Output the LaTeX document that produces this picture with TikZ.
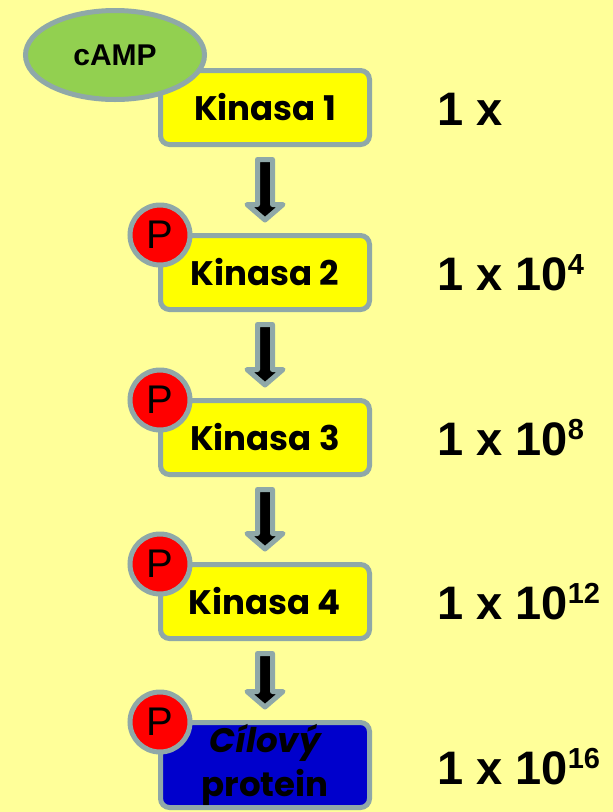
\documentclass[tikz,border=0pt]{standalone}
\usepackage{fontspec}
\setmainfont{Liberation Sans}
\newfontfamily\boxfont{Poppins}
\usetikzlibrary{shapes.geometric,calc}

\definecolor{paper}{HTML}{FFFF99}
\definecolor{edge}{HTML}{8FA8A8}
\definecolor{kinfill}{HTML}{FFFF00}
\definecolor{campgreen}{HTML}{92D050}
\definecolor{pred}{HTML}{FF0000}
\definecolor{targetblue}{HTML}{0000CC}

\tikzset{
  kbox/.style={draw=edge, line width=5pt, fill=kinfill, rounded corners=9pt,
    minimum width=209pt, minimum height=74pt, inner sep=0pt,
    font=\boxfont\bfseries\fontsize{34}{45}\selectfont},
  pcirc/.style={circle, draw=edge, line width=5pt, fill=pred, minimum size=60pt,
    inner sep=0pt, font=\fontsize{40}{40}\selectfont},
  camp/.style={ellipse, draw=edge, line width=5pt, fill=campgreen,
    minimum width=179pt, minimum height=89pt, inner sep=0pt,
    font=\bfseries\fontsize{30}{30}\selectfont},
  amount/.style={anchor=base west, inner sep=0pt,
    font=\bfseries\fontsize{47}{47}\selectfont},
  flowarrow/.style={draw=edge, line width=5pt, fill=black, line join=round,
    to path={let \p1=(\tikztostart), \p2=(\tikztotarget) in
      (\x1-7.5pt,\y1-12.5pt) -- (\x1+7.5pt,\y1-12.5pt) -- (\x1+7.5pt,\y2+28.5pt)
      -- (\x1+18pt,\y2+28.5pt) -- (\x1,\y2+13pt) -- (\x1-18pt,\y2+28.5pt)
      -- (\x1-7.5pt,\y2+28.5pt) -- cycle}}
}
\newcommand{\pw}[1]{\raisebox{16pt}{\fontsize{29}{29}\selectfont #1}}

\begin{document}
\begin{tikzpicture}[x=1pt, y=-1pt]
  \fill[paper] (0,0) rectangle (613,812);
  \useasboundingbox (0,0) rectangle (613,812);

  % kinase cascade boxes
  \node[kbox] (k1) at (265,107.5) {Kinasa 1};
  \node[kbox] (k2) at (265,272.5) {Kinasa 2};
  \node[kbox] (k3) at (265,437.5) {Kinasa 3};
  \node[kbox] (k4) at (265,601.5) {Kinasa 4};
  \node[kbox, fill=targetblue, minimum height=85pt, align=center] (k5) at (265,765)
    {{\itshape Cílový}\\[-1pt]protein};

  % arrows between the stages
  \draw[flowarrow] (k1.south) to (k2.north);
  \draw[flowarrow] (k2.south) to (k3.north);
  \draw[flowarrow] (k3.south) to (k4.north);
  \draw[flowarrow] (k4.south) to (k5.north);

  % activator and phosphate markers
  \node[camp] (camp) at (115,55) {cAMP};
  \node[pcirc] (p2) at ($(k2.north west)+(2,2)$) {P};
  \node[pcirc] (p3) at ($(k3.north west)+(2,2)$) {P};
  \node[pcirc] (p4) at ($(k4.north west)+(2,2)$) {P};
  \node[pcirc] (p5) at ($(k5.north west)+(2,2)$) {P};

  % amplification factors
  \node[amount] (a1) at (437,125) {1 x};
  \node[amount] (a2) at (437,290) {1 x 10\pw{4}};
  \node[amount] (a3) at (437,455) {1 x 10\pw{8}};
  \node[amount] (a4) at (437,619) {1 x 10\pw{12}};
  \node[amount] (a5) at (437,784) {1 x 10\pw{16}};
\end{tikzpicture}
\end{document}
